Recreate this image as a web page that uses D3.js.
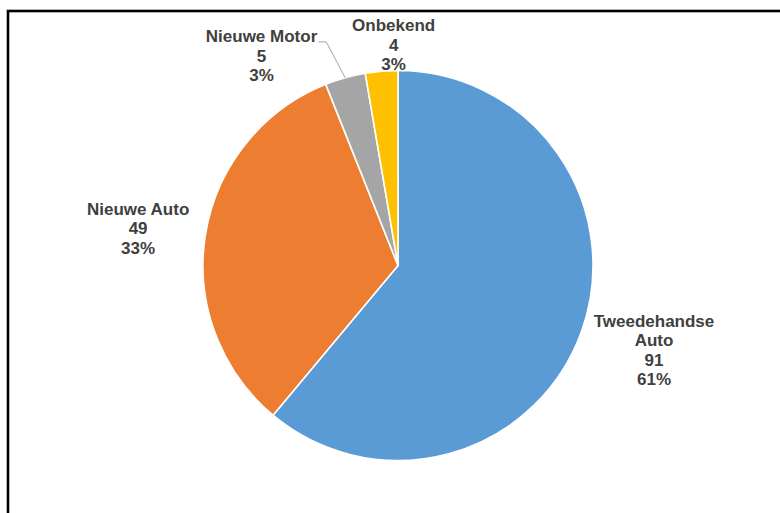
<!DOCTYPE html>
<html>
<head>
<meta charset="utf-8">
<script src="https://cdn.jsdelivr.net/npm/d3@7"></script>
<style>
  html, body { margin: 0; padding: 0; background: #fff; }
  svg { display: block; }
</style>
</head>
<body>
<svg id="chart" width="780" height="513"></svg>
<script>
// ---- data ----
const categories = ["Tweedehandse Auto", "Nieuwe Auto", "Nieuwe Motor", "Onbekend"];
const labelLines = [["Tweedehandse", "Auto"], ["Nieuwe Auto"], ["Nieuwe Motor"], ["Onbekend"]];
const values = [91, 49, 5, 4];
const percentLabels = ["61%", "33%", "3%", "3%"];
const colors = ["#5B9BD5", "#ED7D31", "#A5A5A5", "#FFC000"];

// ---- layout ----
const W = 780, H = 513;
const cx = 398, cy = 265.5, R = 195;
const labelGap = 17;
const fontSize = 17, lineH = 19.5, capH = 12;
// Excel moved the two small labels away from their default spot
const labelAdjust = [[0, 0], [0, 0], [-64, 19], [17, 16]];
const leaderFor = [false, false, true, false];

const svg = d3.select("#chart");

// chart border (only top and left edges visible in the crop)
svg.append("rect")
  .attr("x", 8).attr("y", 11)
  .attr("width", W + 20).attr("height", H + 20)
  .attr("fill", "none").attr("stroke", "#000").attr("stroke-width", 2.6);

const data = categories.map((c, i) => ({ name: c, value: values[i], i }));
const pie = d3.pie().value(d => d.value).sort(null);
const arcs = pie(data);
const arc = d3.arc().innerRadius(0).outerRadius(R);

const g = svg.append("g").attr("transform", `translate(${cx},${cy})`);
g.selectAll("path.slice").data(arcs).enter().append("path")
  .attr("class", "slice")
  .attr("d", arc)
  .attr("fill", d => colors[d.data.i])
  .attr("stroke", "#fff")
  .attr("stroke-width", 1.6)
  .attr("stroke-linejoin", "round");

// labels
const labelsG = svg.append("g")
  .attr("font-family", "'Liberation Sans', Arial, Helvetica, sans-serif")
  .attr("font-weight", "bold")
  .attr("font-size", fontSize)
  .attr("fill", "#404040")
  .attr("text-anchor", "middle");

arcs.forEach(a => {
  const i = a.data.i;
  const lines = labelLines[i].concat([String(values[i]), percentLabels[i]]);
  const t = labelsG.append("text");
  lines.forEach(l => t.append("tspan").text(l));
  let w = 0;
  t.selectAll("tspan").each(function () { w = Math.max(w, this.getComputedTextLength()); });
  const h = capH + (lines.length - 1) * lineH;
  const mid = (a.startAngle + a.endAngle) / 2;
  const s = Math.sin(mid), c = Math.cos(mid);
  const px = cx + (R + labelGap) * s;
  const py = cy - (R + labelGap) * c;
  let lx = px + (w / 2) * s + labelAdjust[i][0];
  let ly = py - (h / 2) * c + labelAdjust[i][1];
  const top = ly - h / 2;
  t.selectAll("tspan")
    .attr("x", lx)
    .attr("y", (d, k) => top + capH + k * lineH);

  if (leaderFor[i]) {
    const sx = lx + w / 2 + 1;
    const sy = top + capH - 0.5;
    const ex = cx + R * s, ey = cy - R * c;
    svg.append("path")
      .attr("d", d3.line()([[sx, sy], [sx + 8, sy], [ex, ey]]))
      .attr("fill", "none")
      .attr("stroke", "#A6A6A6")
      .attr("stroke-width", 1);
  }
});
</script>
</body>
</html>
